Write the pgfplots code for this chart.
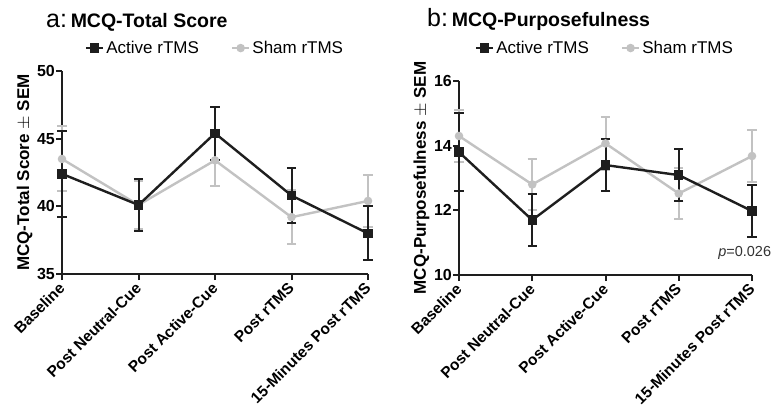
\documentclass[border=0pt]{standalone}
\usepackage{pgfplots}
\pgfplotsset{compat=1.18}
\usepackage{fontspec}
\setmainfont{Liberation Sans}
\definecolor{act}{HTML}{1E1E1E}
\definecolor{sham}{HTML}{C2C2C2}
\pgfplotsset{
  mcq/.style={
    scale only axis,
    axis x line=bottom, axis y line=left,
    axis line style={-, line width=2.4pt, color=act},
    xmin=0, xmax=4,
    xtick={0,1,2,3,4},
    xticklabels={Baseline,Post Neutral-Cue,Post Active-Cue,Post rTMS,15-Minutes Post rTMS},
    x tick label style={rotate=45, anchor=north east, font=\fontsize{15.5}{15.5}\selectfont\bfseries, inner sep=1pt, xshift=-3pt, yshift=3pt},
    y tick label style={font=\fontsize{16}{16}\selectfont\bfseries, inner sep=1pt},
    /pgf/number format/assume math mode=true,
    tick align=outside,
    major tick length=6pt,
    tick style={line width=2pt, color=act},
    ylabel style={font=\fontsize{17}{17}\selectfont\bfseries},
    clip=false,
    legend columns=2,
    reverse legend,
    legend style={draw=none, fill=none, font=\fontsize{17}{17}\selectfont, anchor=center,
      /tikz/every even column/.append style={column sep=30pt}},
    error bars/y dir=both, error bars/y explicit,
  },
  actstyle/.style={color=act, line width=2.4pt, mark=square*, mark size=3.5pt, mark options={solid},
    error bars/error bar style={line width=2pt, color=act},
    error bars/error mark options={line width=2pt, mark size=4.7pt, rotate=90}},
  shamstyle/.style={color=sham, line width=2.4pt, mark=*, mark size=3pt,
    error bars/error bar style={line width=2pt, color=sham},
    error bars/error mark options={line width=2pt, mark size=4.7pt, rotate=90}},
}
\begin{document}
\begin{tikzpicture}[x=1pt,y=1pt]
\useasboundingbox (0,0) rectangle (775,-408);
\node[anchor=base west, inner sep=0pt] at (46,-27) {{\fontsize{25}{25}\selectfont a:} {\bfseries\fontsize{19.5}{19.5}\selectfont MCQ-Total Score}};
\node[anchor=base west, inner sep=0pt] at (427,-26) {{\fontsize{25}{25}\selectfont b:} {\bfseries\fontsize{19.5}{19.5}\selectfont MCQ-Purposefulness}};
\begin{axis}[mcq, at={(62pt,-274pt)}, anchor=south west, width=306pt, height=203pt,
  ymin=35, ymax=50, ytick={35,40,45,50},
  ylabel={MCQ-Total Score $\pm$ SEM},
  legend style={at={(0.5,1.113)}}]
\addplot[shamstyle] coordinates {(0,43.5) +- (0,2.4) (1,40.1) +- (0,1.8) (2,43.4) +- (0,1.9) (3,39.2) +- (0,2.0) (4,40.4) +- (0,1.95)};
\addlegendentry{Sham rTMS}
\addplot[actstyle] coordinates {(0,42.4) +- (0,3.2) (1,40.1) +- (0,1.9) (2,45.4) +- (0,1.95) (3,40.8) +- (0,2.0) (4,38.0) +- (0,2.0)};
\addlegendentry{Active rTMS}
\end{axis}
\begin{axis}[mcq, at={(459pt,-275pt)}, anchor=south west, width=293pt, height=194pt,
  ymin=10, ymax=16, ytick={10,12,14,16},
  ylabel={MCQ-Purposefulness $\pm$ SEM},
  legend style={at={(0.498,1.17)}}]
\addplot[shamstyle] coordinates {(0,14.3) +- (0,0.8) (1,12.8) +- (0,0.8) (2,14.07) +- (0,0.82) (3,12.52) +- (0,0.8) (4,13.68) +- (0,0.8)};
\addlegendentry{Sham rTMS}
\addplot[actstyle] coordinates {(0,13.8) +- (0,1.2) (1,11.7) +- (0,0.8) (2,13.4) +- (0,0.8) (3,13.09) +- (0,0.8) (4,11.98) +- (0,0.8)};
\addlegendentry{Active rTMS}
\node[font=\fontsize{14.5}{14.5}\selectfont, text=black!80] at (axis cs:3.9,10.68) {\textit{p}=0.026};
\end{axis}
\end{tikzpicture}
\end{document}
